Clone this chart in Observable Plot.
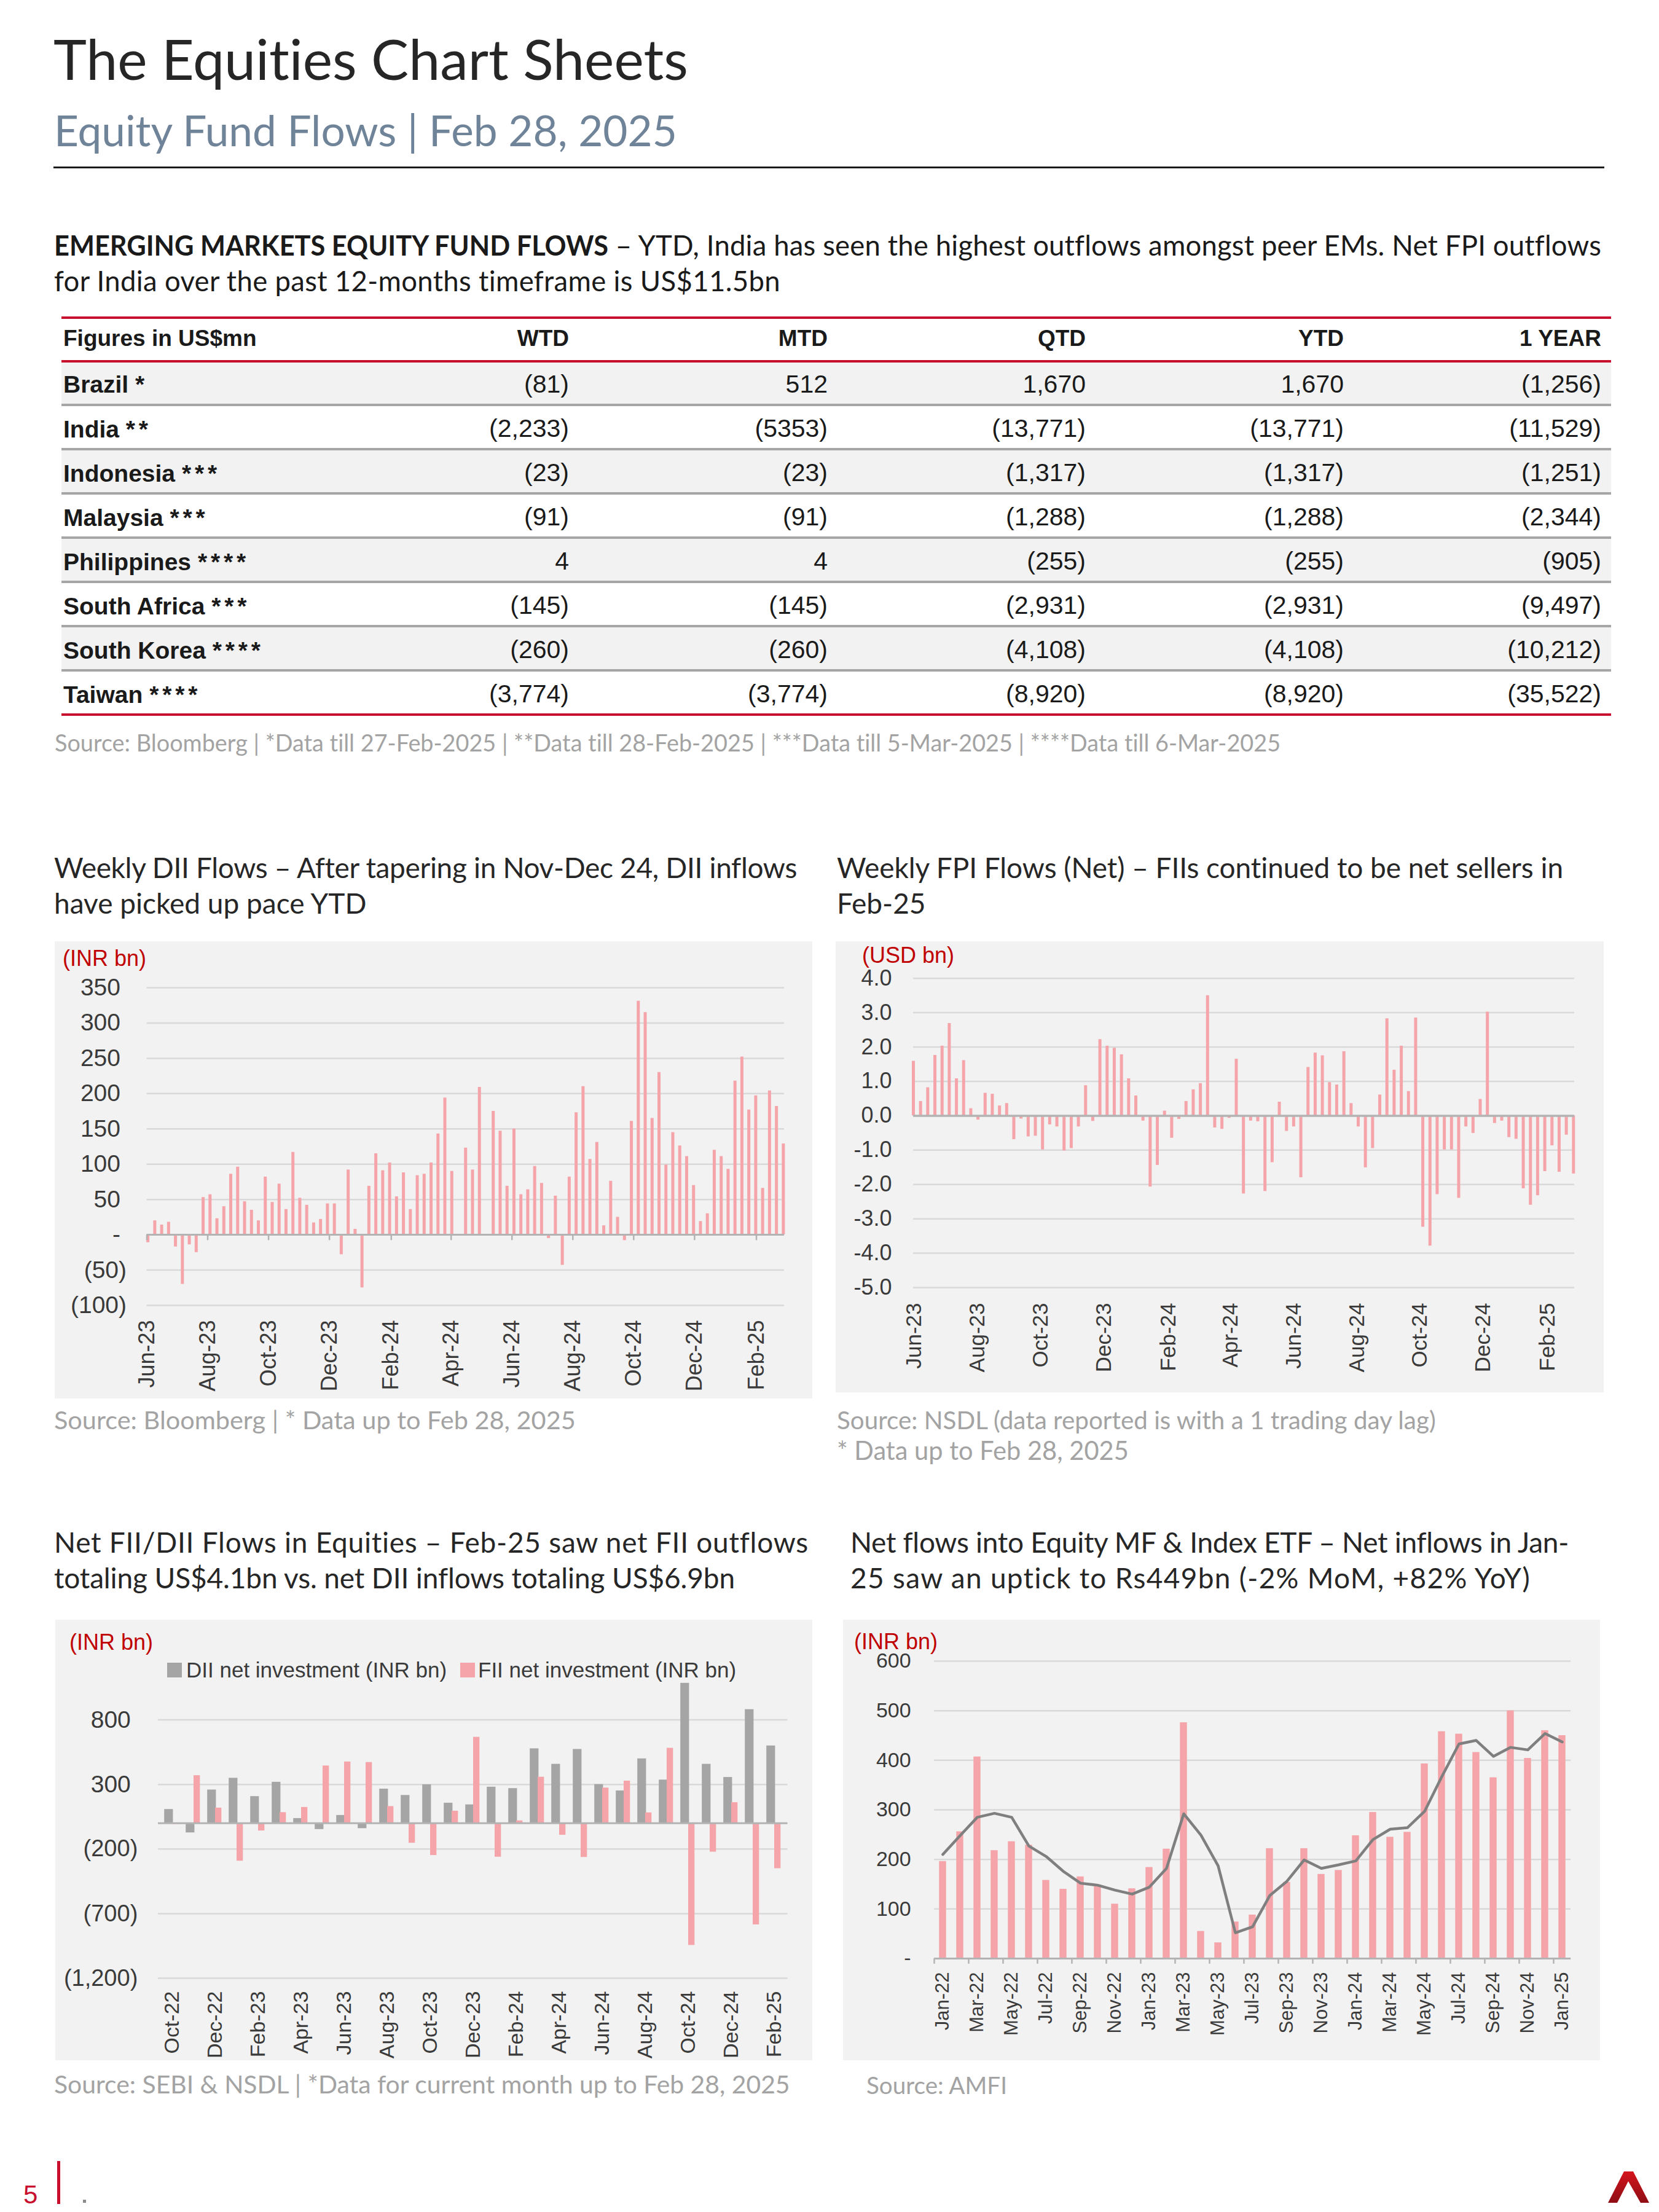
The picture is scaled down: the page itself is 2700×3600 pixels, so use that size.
<!DOCTYPE html>
<html><head><meta charset="utf-8">
<script src="https://cdn.jsdelivr.net/npm/d3@7"></script>
<script src="https://cdn.jsdelivr.net/npm/@observablehq/plot@0.6"></script>
<style>
html,body{margin:0;padding:0;background:#fff;}
#page{position:relative;width:2700px;height:3600px;overflow:hidden;background:#fff;font-variant-ligatures:none;font-feature-settings:"liga" 0,"clig" 0;}
.abs{position:absolute;white-space:nowrap;}
.box{position:absolute;}
.box svg{display:block;}
.ast{letter-spacing:0.15em;}
</style></head>
<body><div id="page"></div>
<script>
// ---------------- DATA ----------------
const tableHeader = ["Figures in US$mn","WTD","MTD","QTD","YTD","1 YEAR"];
const tableCountries = ["Brazil *","India **","Indonesia ***","Malaysia ***","Philippines ****","South Africa ***","South Korea ****","Taiwan ****"];
const tableWTD = ["(81)","(2,233)","(23)","(91)","4","(145)","(260)","(3,774)"];
const tableMTD = ["512","(5353)","(23)","(91)","4","(145)","(260)","(3,774)"];
const tableQTD = ["1,670","(13,771)","(1,317)","(1,288)","(255)","(2,931)","(4,108)","(8,920)"];
const tableYTD = ["1,670","(13,771)","(1,317)","(1,288)","(255)","(2,931)","(4,108)","(8,920)"];
const table1Y = ["(1,256)","(11,529)","(1,251)","(2,344)","(905)","(9,497)","(10,212)","(35,522)"];

// Weekly DII flows (INR bn), first week Jun-23 to last week Feb-25
const diiFirstWeek = "2023-06-02", diiLastWeek = "2025-02-28";
const diiFlows = [-11,20,14,18,-17,-70,-14,-25,53,57,23,40,86,96,47,35,20,82,46,72,36,117,52,42,17,22,44,44,-28,92,8,-75,69,115,91,102,54,88,36,84,86,102,
  143,194,90,0,123,92,209,0,175,147,69,150,57,64,97,73,-5,55,-43,82,173,210,107,131,13,76,25,-8,161,331,315,165,230,99,145,126,111,70,19,30,120,111,93,218,252,177,197,66,204,182,129];
const diiTicks = [-100,-50,0,50,100,150,200,250,300,350];

// Weekly FPI flows (USD bn)
const fpiFirstWeek = "2023-05-31", fpiLastWeek = "2025-02-26";
const fpiFlows = [1.59,0.42,0.82,1.76,2.03,2.69,1.08,1.61,0.21,-0.12,0.66,0.63,0.29,0.36,-0.69,-0.09,-0.61,-0.59,-0.99,-0.26,-0.32,-1.02,-0.95,-0.32,0.88,-0.16,2.22,2.03,1.97,1.78,1.08,0.58,-0.15,-2.07,-1.44,0.14,-0.65,-0.10,0.42,0.76,0.94,3.50,-0.35,-0.39,
  -0.07,1.65,-2.27,-0.15,-0.17,-2.20,-1.36,0.40,-0.45,-0.32,-1.80,1.41,1.83,1.75,0.97,0.90,1.87,0.36,-0.32,-1.51,-0.95,0.61,2.83,1.33,2.03,0.71,2.85,-3.24,-3.79,-2.29,-0.99,-0.99,-2.40,-0.32,-0.51,0.48,3.02,-0.22,-0.15,-0.63,-0.68,-2.12,-2.60,-2.32,-1.62,-0.87,-1.64,-0.56,-1.69];
const fpiTicks = [-5,-4,-3,-2,-1,0,1,2,3,4];

// Monthly net FII / DII (INR bn)
const netMonths = ["Oct-22","Nov-22","Dec-22","Jan-23","Feb-23","Mar-23","Apr-23","May-23","Jun-23","Jul-23","Aug-23","Sep-23","Oct-23","Nov-23","Dec-23","Jan-24","Feb-24","Mar-24","Apr-24","May-24","Jun-24","Jul-24","Aug-24","Sep-24","Oct-24","Nov-24","Dec-24","Jan-25","Feb-25"];
const netDII = [107,-74,258,349,207,318,37,-48,61,-41,265,216,298,156,143,280,269,577,457,572,300,251,499,335,1084,457,355,880,599];
const netFII = [-8,369,118,-293,-59,83,123,444,475,471,130,-154,-249,94,666,-262,19,357,-92,-264,273,327,81,581,-945,-223,160,-786,-351];
const netTicks = [-1200,-700,-200,300,800];

// Net flows into equity MF & index ETF (INR bn) and its trend line
const mfMonths = ["Jan-22","Feb-22","Mar-22","Apr-22","May-22","Jun-22","Jul-22","Aug-22","Sep-22","Oct-22","Nov-22","Dec-22","Jan-23","Feb-23","Mar-23","Apr-23","May-23","Jun-23","Jul-23","Aug-23","Sep-23","Oct-23","Nov-23","Dec-23","Jan-24","Feb-24","Mar-24","Apr-24","May-24","Jun-24","Jul-24","Aug-24","Sep-24","Oct-24","Nov-24","Dec-24","Jan-25"];
const mfFlows = [196,256,407,218,236,229,158,140,165,148,110,141,184,221,476,55,32,74,88,222,154,222,170,178,248,295,245,255,393,458,453,416,365,500,404,460,450];
const mfTrend = [210,248,285,293,285,227,206,176,152,148,138,130,144,182,292,249,187,52,64,127,156,199,182,189,197,240,261,264,297,367,433,440,408,426,421,454,437];
const mfTicks = [0,100,200,300,400,500,600];

// ---------------- STYLE ----------------
const PINK = "#f5a5aa", GRAY = "#a5a5a5", GRID = "#d9d9d9", ZERO = "#b3b3b3";
const RED = "#c8102e", LABELRED = "#c00000", AXISTXT = "#3a3a3a", SRC = "#a3a3a3";
const page = document.getElementById("page");

function txt(s, o) {
  const d = document.createElement("div");
  d.className = "abs";
  const fam = o.family || "Lato";
  const lib = fam.startsWith("Liberation");
  const asc = lib ? 0.905 : 0.987, desc = lib ? 0.212 : 0.213;
  const place = fs => {
    const top = o.baseline - ((fs - (asc + desc) * fs) / 2 + asc * fs);
    d.style.top = top + "px";
    d.style.fontSize = fs + "px";
    d.style.lineHeight = fs + "px";
  };
  place(o.size);
  if (o.right != null) { d.style.right = (2700 - o.right) + "px"; d.style.textAlign = "right"; }
  else d.style.left = o.x + "px";
  d.style.fontFamily = lib ? `"${fam}", Arial, sans-serif` : `"${fam}", "Noto Sans", sans-serif`;
  d.style.fontWeight = o.weight || 400;
  d.style.color = o.color || "#262626";
  d.innerHTML = s;
  page.appendChild(d);
  if (o.fitEnd != null) {
    const w = d.getBoundingClientRect().width, target = o.fitEnd - o.x;
    if (o.fit === "spacing") {
      const spaces = (d.textContent.match(/ /g) || []).length;
      if (spaces) d.style.wordSpacing = ((target - w) / spaces) + "px";
    } else if (o.fit === "letter") {
      const n = d.textContent.length;
      d.style.letterSpacing = ((target - w) / n) + "px";
    } else {
      place(o.size * target / w);
    }
  }
  return d;
}
function rect(x, y, w, h, c) {
  const d = document.createElement("div");
  d.className = "abs";
  Object.assign(d.style, {left: x + "px", top: y + "px", width: w + "px", height: h + "px", background: c});
  page.appendChild(d);
  return d;
}
function mount(svg, x, y, w) {
  const d = document.createElement("div");
  d.className = "box";
  Object.assign(d.style, {left: x + "px", top: y + "px", width: w + "px"});
  d.appendChild(svg);
  page.appendChild(d);
}
const plotStyle = {background: "#f2f2f2", fontFamily: '"Liberation Sans", Arial, sans-serif', color: AXISTXT, overflow: "visible"};
const fmtN = d3.format(",");
const posFmt = d => d === 0 ? "-" : fmtN(d);
const negFmt = d => `(${fmtN(-d)})`;
const astSpan = s => s.replace(/(\*+)/, '<span class="ast">$1</span>');

// ---------------- HEADER ----------------
txt("The Equities Chart Sheets", {x: 87, baseline: 130, size: 92, color: "#262626", fitEnd: 1120});
txt("Equity Fund Flows | Feb 28, 2025", {x: 88, baseline: 238, size: 68, color: "#6f8399", fitEnd: 1102});
rect(87, 271, 2524, 3, "#1a1a1a");

// heading paragraph: bold lead-in, line 1 spread across the page width
{
  const d = txt('<span id="lead" style="display:inline-block;font-weight:700;transform-origin:0 50%;">EMERGING MARKETS EQUITY FUND FLOWS</span><span id="rest"> – YTD, India has seen the highest outflows amongst peer EMs. Net FPI outflows</span>', {x: 88, baseline: 416, size: 45.5, color: "#1a1a1a"});
  const lead = document.getElementById("lead");
  const lw = lead.getBoundingClientRect().width, k = Math.min(1, 902 / lw);
  lead.style.transform = `scaleX(${k})`;
  lead.style.marginRight = (-(1 - k) * lw) + "px";
  const rest = document.getElementById("rest");
  const w = d.getBoundingClientRect().width;
  const n = rest.textContent.length;
  rest.style.letterSpacing = ((2606 - 88 - w) / n) + "px";
}
txt('for India over the past 12-months timeframe is US$11.5bn', {x: 88, baseline: 474, size: 45.5, color: "#1a1a1a", fitEnd: 1270, fit: "letter"});

// ---------------- TABLE ----------------
const tblL = 100, tblW = 2522;
const colRight = [926, 1347, 1767, 2187, 2606];
rect(tblL, 515, tblW, 4, RED);
txt(tableHeader[0], {x: 103, baseline: 563, size: 37, family: "Liberation Sans", weight: 700, color: "#1a1a1a"});
tableHeader.slice(1).forEach((h, j) => txt(h, {right: colRight[j], baseline: 563, size: 37, family: "Liberation Sans", weight: 700, color: "#1a1a1a"}));
rect(tblL, 586, tblW, 4, RED);
const cols = [tableWTD, tableMTD, tableQTD, tableYTD, table1Y];
const seps = tableCountries.map((c, i) => 658.5 + 72.1 * i);
tableCountries.forEach((c, i) => {
  const top = i === 0 ? 590 : seps[i - 1] + 2;
  const bot = seps[i] - 2;
  if (i % 2 === 0) rect(tblL, top, tblW, bot - top, "#f2f2f2");
  const base = seps[i] - 19;
  txt(astSpan(c), {x: 103, baseline: base, size: 39, family: "Liberation Sans", weight: 700, color: "#1a1a1a"});
  cols.forEach((col, j) => txt(col[i], {right: colRight[j], baseline: base, size: 41, family: "Liberation Sans", color: "#1a1a1a"}));
  rect(tblL, seps[i] - 2, tblW, 4, i < tableCountries.length - 1 ? "#a6a6a6" : RED);
});
txt("Source: Bloomberg | *Data till 27-Feb-2025 | **Data till 28-Feb-2025 | ***Data till 5-Mar-2025 | ****Data till 6-Mar-2025", {x: 89, baseline: 1224, size: 38, color: SRC, fitEnd: 2085});

// ---------------- CHART TITLES / SOURCES ----------------
txt("Weekly DII Flows – After tapering in Nov-Dec 24, DII inflows", {x: 88, baseline: 1430, size: 46, fitEnd: 1297, fit: "letter"});
txt("have picked up pace YTD", {x: 88, baseline: 1488, size: 46});
txt("Weekly FPI Flows (Net) – FIIs continued to be net sellers in", {x: 1362, baseline: 1430, size: 46, fitEnd: 2544, fit: "letter"});
txt("Feb-25", {x: 1362, baseline: 1488, size: 46});
txt("Source: Bloomberg | * Data up to Feb 28, 2025", {x: 88, baseline: 2327, size: 40, color: SRC, fitEnd: 937});
txt("Source: NSDL (data reported is with a 1 trading day lag)", {x: 1362, baseline: 2327, size: 40, color: SRC, fitEnd: 2337});
txt("* Data up to Feb 28, 2025", {x: 1362, baseline: 2377, size: 40, color: SRC, fitEnd: 1837});

txt("Net FII/DII Flows in Equities – Feb-25 saw net FII outflows", {x: 88, baseline: 2528, size: 46, fitEnd: 1316, fit: "letter"});
txt("totaling US$4.1bn vs. net DII inflows totaling US$6.9bn", {x: 88, baseline: 2586, size: 46, fitEnd: 1196, fit: "letter"});
txt("Net flows into Equity MF & Index ETF – Net inflows in Jan-", {x: 1384, baseline: 2528, size: 46, fitEnd: 2553, fit: "letter"});
txt("25 saw an uptick to Rs449bn (-2% MoM, +82% YoY)", {x: 1384, baseline: 2586, size: 46, fitEnd: 2491, fit: "letter"});
txt("Source: SEBI & NSDL | *Data for current month up to Feb 28, 2025", {x: 88, baseline: 3408, size: 40, color: SRC, fitEnd: 1286});
txt("Source: AMFI", {x: 1410, baseline: 3408, size: 40, color: SRC, fitEnd: 1639});

// ---------------- CHART 1: Weekly DII ----------------
const spread = (first, last, n) => { const a = new Date(first), b = new Date(last); return i => new Date(+a + i * (b - a) / (n - 1)); };
const diiAt = spread(diiFirstWeek, diiLastWeek, diiFlows.length);
const diiData = diiFlows.map((v, i) => ({date: diiAt(i), v}));
const diiMonthTicks = d3.utcMonth.range(new Date("2023-06-01"), new Date("2025-03-01"), 2);
mount(Plot.plot({
  width: 1233, height: 744, marginLeft: 149.5, marginRight: 46, marginTop: 75, marginBottom: 152,
  x: {type: "utc", domain: [new Date("2023-06-01"), new Date("2025-03-01")], label: null},
  y: {domain: [-100, 350], label: null},
  style: plotStyle,
  marks: [
    Plot.gridY(diiTicks.filter(d => d !== 0), {stroke: GRID, strokeOpacity: 1, strokeWidth: 2.5}),
    Plot.ruleX(diiData, {x: "date", y1: 0, y2: "v", stroke: PINK, strokeWidth: 5}),
    Plot.ruleY([0], {stroke: ZERO, strokeWidth: 3}),
    Plot.ruleX(diiMonthTicks, {x: d => d, y1: 0, y2: -8, stroke: ZERO, strokeWidth: 2.5}),
    Plot.axisY(diiTicks.filter(d => d >= 0), {tickSize: 0, tickPadding: 43, tickFormat: posFmt, fontSize: 39}),
    Plot.axisY(diiTicks.filter(d => d < 0), {tickSize: 0, tickPadding: 33, tickFormat: negFmt, fontSize: 39}),
    Plot.axisX(diiMonthTicks, {tickSize: 0, tickPadding: 24, tickRotate: -90, lineAnchor: "middle", tickFormat: d3.utcFormat("%b-%y"), fontSize: 36})
  ]
}), 89, 1532, 1233);
txt("(INR bn)", {x: 102, baseline: 1572, size: 36, family: "Liberation Sans", color: LABELRED});

// ---------------- CHART 2: Weekly FPI ----------------
const fpiAt = spread(fpiFirstWeek, fpiLastWeek, fpiFlows.length);
const fpiData = fpiFlows.map((v, i) => ({date: fpiAt(i), v}));
const fpiMonthTicks = d3.utcMonth.range(new Date("2023-06-01"), new Date("2025-03-01"), 2);
mount(Plot.plot({
  width: 1250, height: 734, marginLeft: 126, marginRight: 48, marginTop: 59.7, marginBottom: 171,
  x: {type: "utc", domain: [new Date("2023-05-31"), new Date("2025-02-27")], label: null},
  y: {domain: [-5, 4], label: null},
  style: plotStyle,
  marks: [
    Plot.gridY(fpiTicks.filter(d => d !== 0), {stroke: GRID, strokeOpacity: 1, strokeWidth: 2.5}),
    Plot.ruleX(fpiData, {x: "date", y1: 0, y2: "v", stroke: PINK, strokeWidth: 5}),
    Plot.ruleY([0], {stroke: ZERO, strokeWidth: 3.5}),
    Plot.axisY(fpiTicks, {tickSize: 0, tickPadding: 35, tickFormat: d => d.toFixed(1), fontSize: 36}),
    Plot.axisX(fpiMonthTicks, {tickSize: 0, tickPadding: 25, tickRotate: -90, lineAnchor: "middle", tickFormat: d3.utcFormat("%b-%y"), fontSize: 35})
  ]
}), 1360, 1532, 1250);
txt("(USD bn)", {x: 1403, baseline: 1567, size: 36, family: "Liberation Sans", color: LABELRED});

// ---------------- CHART 3: Net FII / DII ----------------
const netData = netMonths.map((m, i) => ({m, dii: netDII[i], fii: netFII[i]}));
mount(Plot.plot({
  width: 1232, height: 717, marginLeft: 167, marginRight: 40.4, marginTop: 57.4, marginBottom: 134,
  x: {type: "band", domain: netMonths, padding: 0, label: null},
  y: {domain: [-1200, 1300], label: null},
  style: plotStyle,
  marks: [
    Plot.gridY(netTicks, {stroke: GRID, strokeOpacity: 1, strokeWidth: 2.5}),
    Plot.barY(netData, {x: "m", y: "dii", fill: GRAY, insetLeft: 5.2, insetRight: 15.6}),
    Plot.barY(netData, {x: "m", y: "fii", fill: PINK, insetLeft: 18, insetRight: 6.7}),
    Plot.ruleY([0], {stroke: ZERO, strokeWidth: 3}),
    Plot.axisY(netTicks.filter(d => d >= 0), {tickSize: 0, tickPadding: 44.7, tickFormat: posFmt, fontSize: 39}),
    Plot.axisY(netTicks.filter(d => d < 0), {tickSize: 0, tickPadding: 33.2, tickFormat: negFmt, fontSize: 38}),
    Plot.axisX(netMonths.filter((d, i) => i % 2 === 0), {tickSize: 0, tickPadding: 21, tickRotate: -90, lineAnchor: "middle", fontSize: 34})
  ]
}), 90, 2636, 1232);
txt("(INR bn)", {x: 113, baseline: 2685, size: 36, family: "Liberation Sans", color: LABELRED});
rect(272, 2706, 24, 24, GRAY);
txt("DII net investment (INR bn)", {x: 303, baseline: 2730, size: 35, family: "Liberation Sans", color: AXISTXT});
rect(749, 2706, 24, 24, PINK);
txt("FII net investment (INR bn)", {x: 778, baseline: 2730, size: 35, family: "Liberation Sans", color: AXISTXT});

// ---------------- CHART 4: Equity MF & Index ETF ----------------
const mfData = mfMonths.map((m, i) => ({m, v: mfFlows[i], t: mfTrend[i]}));
const mfLabelMonths = mfMonths.filter((d, i) => i % 2 === 0);
mount(Plot.plot({
  width: 1232, height: 717, marginLeft: 148.2, marginRight: 47.7, marginTop: 67, marginBottom: 166,
  x: {type: "band", domain: mfMonths, padding: 0, label: null},
  y: {domain: [0, 600], label: null},
  style: plotStyle,
  marks: [
    Plot.gridY(mfTicks.filter(d => d !== 0), {stroke: GRID, strokeOpacity: 1, strokeWidth: 2.5}),
    Plot.barY(mfData, {x: "m", y: "v", fill: PINK, insetLeft: 8.3, insetRight: 8.3}),
    Plot.ruleY([0], {stroke: ZERO, strokeWidth: 3}),
    Plot.ruleX(mfLabelMonths, {x: d => d, y1: 0, y2: -11, dx: -14, stroke: ZERO, strokeWidth: 2.5}),
    Plot.line(mfData, {x: "m", y: "t", stroke: "#7f7f7f", strokeWidth: 4.5}),
    Plot.axisY(mfTicks, {tickSize: 0, tickPadding: 38, tickFormat: posFmt, fontSize: 34}),
    Plot.axisX(mfLabelMonths, {tickSize: 0, tickPadding: 22, tickRotate: -90, lineAnchor: "middle", fontSize: 31})
  ]
}), 1372, 2636, 1232);
txt("(INR bn)", {x: 1390, baseline: 2684, size: 36, family: "Liberation Sans", color: LABELRED});

// ---------------- FOOTER ----------------
txt("5", {x: 38, baseline: 3587, size: 42, family: "Liberation Sans", color: RED});
rect(93, 3517, 5, 70, RED);
rect(135, 3580, 5, 5, "#8a8a8a");
const logo = document.createElementNS("http://www.w3.org/2000/svg", "svg");
logo.setAttribute("width", 80); logo.setAttribute("height", 60);
logo.style.position = "absolute"; logo.style.left = "2612px"; logo.style.top = "3530px";
logo.innerHTML = '<defs><linearGradient id="lg" x1="0" y1="0" x2="0" y2="1"><stop offset="0" stop-color="#d4141c"/><stop offset="1" stop-color="#8e0e14"/></linearGradient></defs><polygon points="5,55 31,4 46,4 72,55 58,55 38,20 20,55" fill="url(#lg)"/>';
page.appendChild(logo);
</script>
</body></html>
